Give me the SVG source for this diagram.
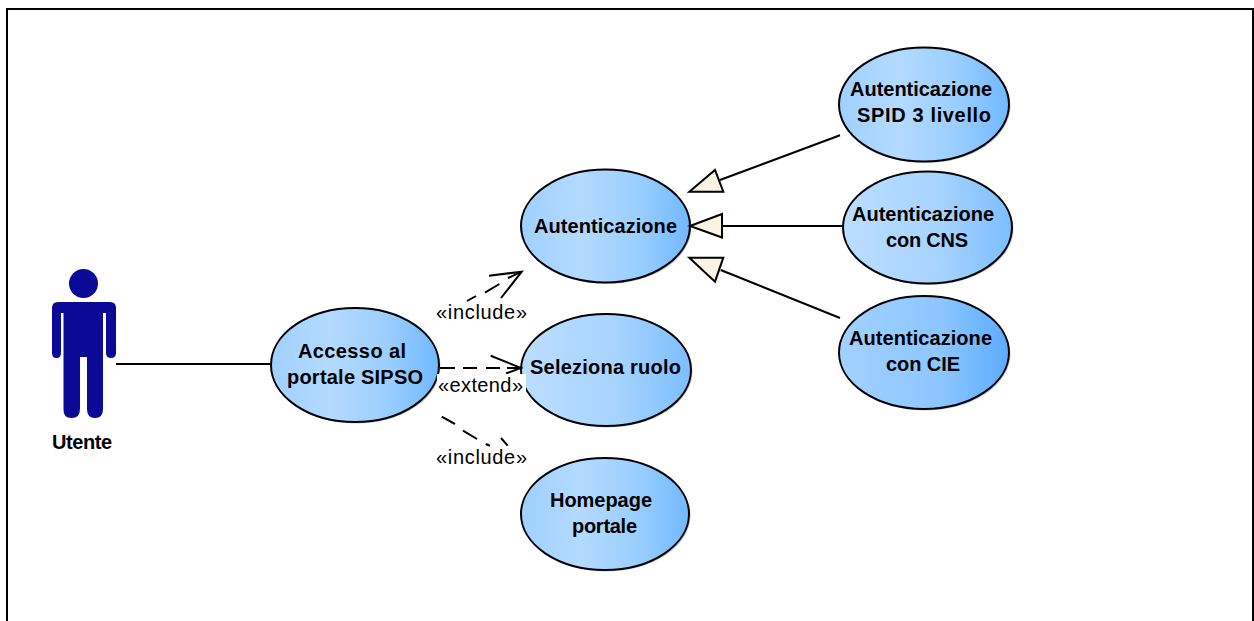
<svg xmlns="http://www.w3.org/2000/svg" width="1254" height="621" viewBox="0 0 1254 621">
<style>
text{font-family:"Liberation Sans",Arial,sans-serif;fill:#000}
.n{font-weight:bold;font-size:20px}
.l{font-size:20px}
.uc{stroke:#000;stroke-width:2}
.sh{fill:#9a9a9a;fill-opacity:.55;stroke:none}
.c{fill:none;stroke:#000;stroke-width:2}
.tri{fill:#FBF3E3;stroke:#000;stroke-width:2;stroke-linejoin:miter}
.a{fill:#0A0A96}
</style>
<defs>
<linearGradient id="g1" x1="0" y1="0" x2="1" y2="0"><stop offset="0" stop-color="#BBDEFF"/><stop offset=".55" stop-color="#A8D4FF"/><stop offset="1" stop-color="#7CBEFF"/></linearGradient>
<linearGradient id="g2" x1="0" y1="0" x2="1" y2="0"><stop offset="0" stop-color="#9FD0FF"/><stop offset=".35" stop-color="#B4DAFF"/><stop offset=".7" stop-color="#9ACEFF"/><stop offset="1" stop-color="#70B8FF"/></linearGradient>
<linearGradient id="g3" x1="0" y1="0" x2="1" y2="0"><stop offset="0" stop-color="#A2D1FF"/><stop offset=".6" stop-color="#8CC6FF"/><stop offset="1" stop-color="#5CABFF"/></linearGradient>
</defs>
<rect width="1254" height="621" fill="#fff"/>
<path d="M7 621V9H1253V621" fill="none" stroke="#000" stroke-width="2"/>

<g id="node-utente">
<circle class="a" cx="83.500" cy="283.500" r="14.500"/>
<path class="a" d="M58 302H110Q116 302 116 308V353Q116 358 111 358T106 353V313H103V409Q103 418 95 418T87 409V357H80V409Q80 418 71.500 418T63.500 409V313H61V353Q61 358 56.500 358T52 353V308Q52 302 58 302Z"/>
<text class="n" x="52" y="449" textLength="60">Utente</text>
</g>

<g id="node-accesso">
<ellipse class="sh" cx="356.500" cy="366.500" rx="84" ry="57"/>
<ellipse class="uc" cx="355" cy="365" rx="84" ry="57" fill="url(#g2)"/>
<text class="n" x="298" y="358" textLength="108">Accesso al</text>
<text class="n" x="287" y="384" textLength="136">portale SIPSO</text>
</g>

<g id="node-autenticazione">
<ellipse class="sh" cx="607" cy="227.500" rx="84.500" ry="56.500"/>
<ellipse class="uc" cx="605.500" cy="226" rx="84.500" ry="56.500" fill="url(#g2)"/>
<text class="n" x="534" y="233" textLength="143">Autenticazione</text>
</g>

<g id="node-seleziona">
<ellipse class="sh" cx="607.500" cy="371.500" rx="85" ry="56"/>
<ellipse class="uc" cx="606" cy="370" rx="85" ry="56" fill="url(#g1)"/>
<text class="n" x="530" y="374" textLength="151">Seleziona ruolo</text>
</g>

<g id="node-homepage">
<ellipse class="sh" cx="606.500" cy="515.500" rx="84" ry="56"/>
<ellipse class="uc" cx="605" cy="514" rx="84" ry="56" fill="url(#g2)"/>
<text class="n" x="550" y="507" textLength="102">Homepage</text>
<text class="n" x="572" y="533" textLength="65">portale</text>
</g>

<g id="node-spid">
<ellipse class="sh" cx="925.500" cy="106" rx="85" ry="57"/>
<ellipse class="uc" cx="924" cy="104.500" rx="85" ry="57" fill="url(#g2)"/>
<text class="n" x="850" y="96" textLength="142">Autenticazione</text>
<text class="n" x="857" y="122" textLength="134">SPID 3 livello</text>
</g>

<g id="node-cns">
<ellipse class="sh" cx="929" cy="229" rx="84.500" ry="56"/>
<ellipse class="uc" cx="927.500" cy="227.500" rx="84.500" ry="56" fill="url(#g1)"/>
<text class="n" x="852" y="221" textLength="142">Autenticazione</text>
<text class="n" x="886" y="247" textLength="82">con CNS</text>
</g>

<g id="node-cie">
<ellipse class="sh" cx="925.500" cy="354" rx="85" ry="56.500"/>
<ellipse class="uc" cx="924" cy="352.500" rx="85" ry="56.500" fill="url(#g3)"/>
<text class="n" x="849" y="345" textLength="143">Autenticazione</text>
<text class="n" x="886" y="371" textLength="74">con CIE</text>
</g>

<g id="connectors">
<path class="c" d="M116 364H271"/>
<path class="c" d="M840 135.300L720 180"/>
<path class="tri" d="M689.300 191.700L715 170L723.300 191.700Z"/>
<path class="c" d="M843 226H722"/>
<path class="tri" d="M690 226L722 214V237.500Z"/>
<path class="c" d="M840 318L720.700 270"/>
<path class="tri" d="M689.300 257.700H723.300L715 281.700Z"/>
<path class="c" d="M467 301L476 296M485 292.700L499.300 284M508 278L521.700 271.700"/>
<path class="c" d="M489 275.700L521.700 271.700L501 298"/>
<text class="l" x="436" y="319" textLength="91">«include»</text>
<path class="c" d="M440 368H455M463 368H477M486 368H500M507 368H521"/>
<path class="c" d="M490.700 355.700L521 368L506 373.500"/>
<rect x="437" y="374" width="89" height="21" fill="#fff"/>
<text class="l" x="438" y="392" textLength="85">«extend»</text>
<path class="c" d="M441.700 416.700L455 424M463 430.700L477 439M485.700 444L490 445.700M501 438L507.700 445.700"/>
<text class="l" x="436" y="464" textLength="91">«include»</text>
</g>
</svg>
